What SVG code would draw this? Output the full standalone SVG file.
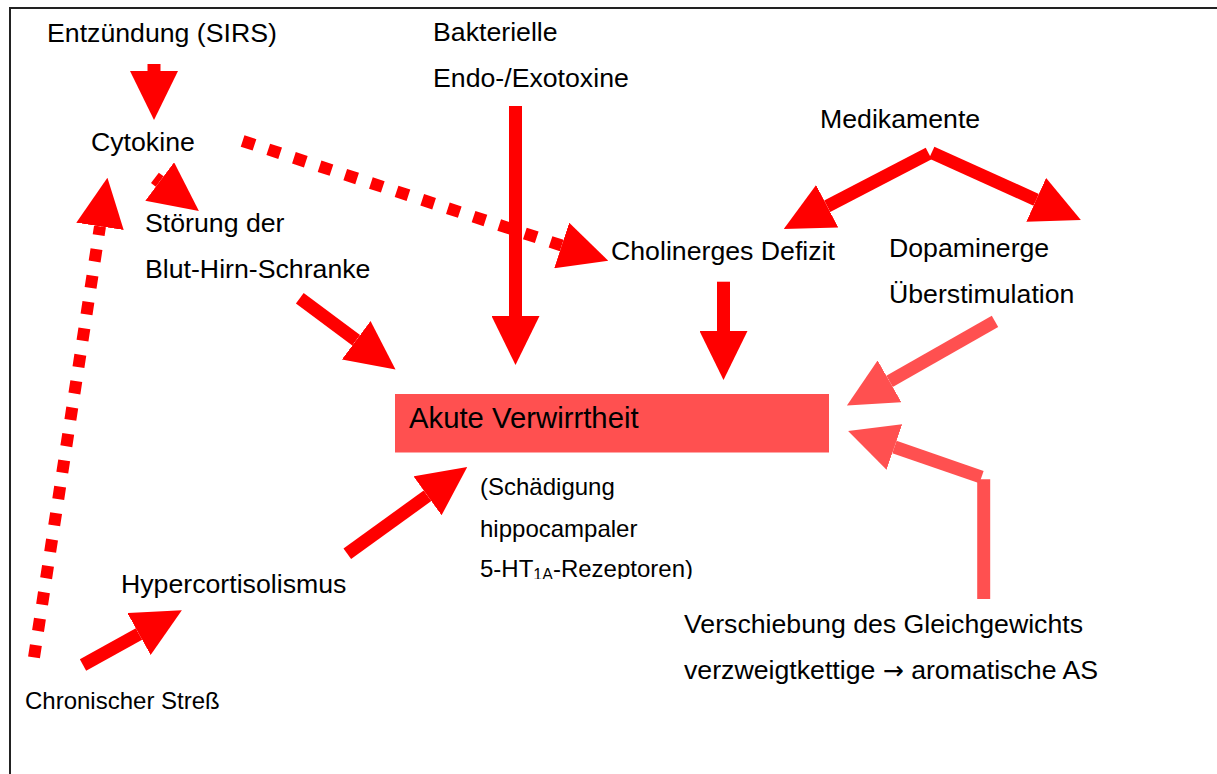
<svg xmlns="http://www.w3.org/2000/svg" width="1217" height="774" viewBox="0 0 1217 774">
<style>
text{font-family:"Liberation Sans",Arial,sans-serif;fill:#000}
.t26{font-size:26.7px}
.t24{font-size:24px}
.t29{font-size:29.3px}
.sym{font-family:"DejaVu Sans",sans-serif;font-size:25px}
.frame{stroke:#222;stroke-width:2;fill:none}
.c{fill:none;stroke:#FF0000;stroke-width:13;stroke-linecap:butt;marker-end:url(#ah)}
.cl{fill:none;stroke:#FF5050;stroke-width:13;stroke-linecap:butt}
.cla{marker-end:url(#ahl)}
.d{stroke-width:12}
</style>
<defs>
<marker id="ah" markerUnits="userSpaceOnUse" markerWidth="49" markerHeight="48" viewBox="0 0 49 48" refX="0" refY="24" orient="auto"><path d="M0,0 L49,24 L0,48 Z" fill="#FF0000"/></marker>
<marker id="ahl" markerUnits="userSpaceOnUse" markerWidth="49" markerHeight="48" viewBox="0 0 49 48" refX="0" refY="24" orient="auto"><path d="M0,0 L49,24 L0,48 Z" fill="#FF5050"/></marker>
<clipPath id="clipR"><rect x="470" y="540" width="260" height="39"/></clipPath>
</defs>
<rect width="1217" height="774" fill="#fff"/>
<path class="frame" d="M10,774 L10,8 L1217,8"/>

<g id="connectors">
<line class="c" x1="154" y1="64" x2="154" y2="71"/>
<line class="c" x1="154.9" y1="177.9" x2="159.7" y2="181.5"/>
<line class="c d" x1="34" y1="657.4" x2="100" y2="226.3" stroke-dasharray="12.5 14.2"/>
<line class="c d" x1="242.6" y1="141" x2="561.7" y2="245.5" stroke-dasharray="12.5 14.5"/>
<line class="c" x1="299.8" y1="298.3" x2="356.2" y2="340.3"/>
<line class="c" x1="515.5" y1="106" x2="515.5" y2="316"/>
<line class="c" x1="723.5" y1="281.7" x2="723.5" y2="331"/>
<line class="c" x1="928.7" y1="153.4" x2="827.2" y2="206.3"/>
<line class="c" x1="931.7" y1="152.6" x2="1036.2" y2="199.8"/>
<line class="cl cla" x1="995" y1="321.3" x2="889.5" y2="381.3"/>
<line class="cl" x1="983.7" y1="599" x2="983.7" y2="479.3"/>
<line class="cl cla" x1="981.5" y1="477.2" x2="894.4" y2="447"/>
<line class="c" x1="347.3" y1="553.7" x2="427.5" y2="495.8"/>
<line class="c" x1="83" y1="665" x2="139" y2="634"/>
</g>

<g id="akute-verwirrtheit">
<rect x="395" y="394" width="434" height="58.5" fill="#FF5050"/>
<text class="t29" x="409" y="428">Akute Verwirrtheit</text>
</g>
<g id="entzuendung"><text class="t26" x="47" y="42">Entzündung (SIRS)</text></g>
<g id="cytokine"><text class="t26" x="91" y="151">Cytokine</text></g>
<g id="stoerung"><text class="t26" x="145" y="232">Störung der</text><text class="t26" x="145" y="278">Blut-Hirn-Schranke</text></g>
<g id="bakterielle"><text class="t26" x="433" y="41">Bakterielle</text><text class="t26" x="433" y="87">Endo-/Exotoxine</text></g>
<g id="medikamente"><text class="t26" x="820" y="128">Medikamente</text></g>
<g id="cholinerges"><text class="t26" x="611" y="260">Cholinerges Defizit</text></g>
<g id="dopaminerge"><text class="t26" x="889" y="257">Dopaminerge</text><text class="t26" x="889" y="303">Überstimulation</text></g>
<g id="schaedigung">
<text class="t24" x="480" y="495">(Schädigung</text>
<text class="t24" x="480" y="537">hippocampaler</text>
<text class="t24" x="480" y="577" clip-path="url(#clipR)">5-HT<tspan font-size="16" dy="3">1A</tspan><tspan dy="-3">-Rezeptoren)</tspan></text>
</g>
<g id="hypercortisolismus"><text class="t26" x="121" y="593">Hypercortisolismus</text></g>
<g id="chronischer-stress"><text class="t24" x="25" y="709">Chronischer Streß</text></g>
<g id="verschiebung"><text class="t26" x="684" y="633">Verschiebung des Gleichgewichts</text><text class="t26" x="684" y="679">verzweigtkettige <tspan class="sym">→</tspan> aromatische AS</text></g>
</svg>
